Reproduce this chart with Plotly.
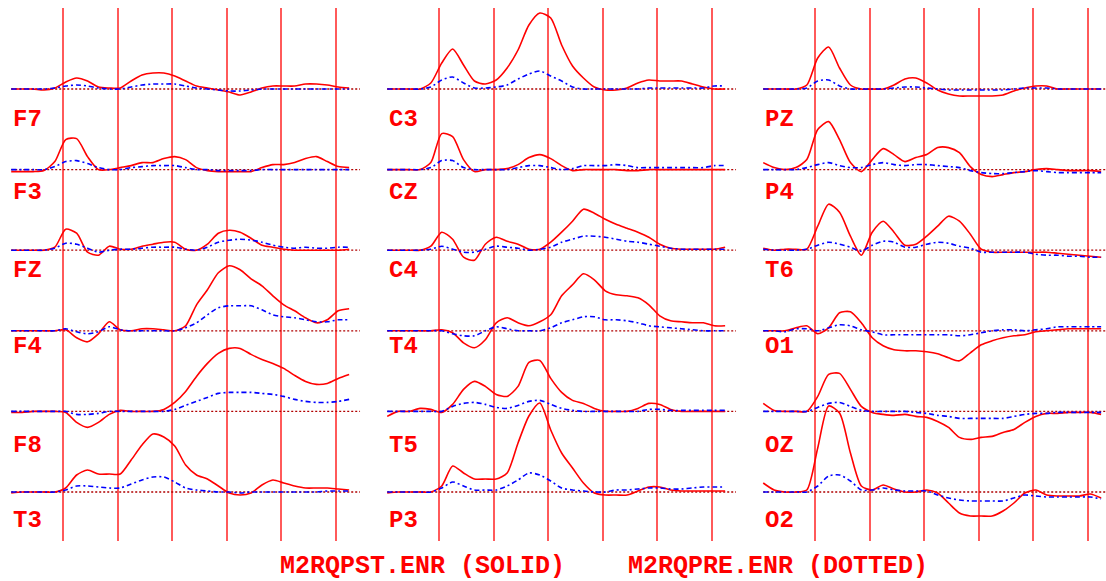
import plotly.graph_objects as go

# time axis (ms) of the sampled waveforms
times = [-95, -75, -55, -35, -15, 5, 25, 45, 65, 85, 105, 125, 145, 165, 185, 205,
         225, 245, 265, 285, 305, 325, 345, 365, 385, 405, 425, 445, 465, 485, 505, 525]
grid_ticks = [0, 100, 200, 300, 400, 500]
baseline_span = [-95, 545]

# column 1
col1_names = ["F7", "F3", "FZ", "F4", "F8", "T3"]
F7_post = [0,0,0,-1,1,7,11,8,2,1,1,8,14,16,16,13,8,3,1,-1,-3,-6,-3,1,3,3,3,5,5,4,2,1]
F7_pre = [0,0,0,0,1,3,4,3,1,0,0,2,4,5,5,5,3,1,0,-1,-2,-2,-1,0,0,0,0,0,0,0,0,0]
F3_post = [-2,-2,-2,-1,8,30,31,13,0,0,2,4,7,7,11,13,10,2,-1,-2,-2,-2,-2,2,5,5,7,11,13,8,3,2]
F3_pre = [0,0,0,0,3,8,9,6,2,0,0,2,3,4,4,4,2,0,0,-1,-1,-1,-1,0,0,0,0,0,0,0,0,0]
FZ_post = [0,0,0,0,3,21,17,-2,-5,4,1,1,4,6,8,8,1,0,6,17,20,18,12,5,3,1,0,0,0,0,0,1]
FZ_pre = [0,0,0,0,2,7,6,2,-2,0,1,1,2,3,3,3,1,0,3,8,10,11,10,8,5,3,2,3,2,2,3,3]
F4_post = [0,0,0,0,0,1,-7,-11,-3,9,1,0,2,2,1,0,5,26,41,58,65,61,52,45,35,26,20,13,8,11,20,22]
F4_pre = [0,0,0,0,0,2,-1,-3,-1,4,1,0,0,0,0,0,3,8,16,23,25,25,25,21,16,14,13,11,9,9,11,11]
F8_post = [-1,-1,0,0,0,-1,-11,-16,-11,-3,1,0,0,0,2,9,20,35,48,58,63,63,57,52,48,43,36,30,27,28,33,37]
F8_pre = [0,0,0,0,0,0,-3,-3,-2,0,0,0,0,0,0,2,6,10,14,18,19,19,19,18,17,15,12,10,9,9,10,12]
T3_post = [-1,0,0,0,0,4,17,22,18,18,18,32,47,58,55,46,27,17,13,6,-1,-3,-1,7,12,9,6,4,4,4,3,2]
T3_pre = [0,0,0,0,0,2,6,6,5,4,4,8,12,15,15,10,4,2,1,0,0,-1,0,0,0,0,0,0,0,1,1,1]

# column 2
col2_names = ["C3", "CZ", "C4", "T4", "T5", "P3"]
C3_post = [0,0,0,0,6,26,40,24,8,5,9,21,39,64,76,71,44,23,11,2,-1,-1,1,6,9,8,8,8,5,2,0,0]
C3_pre = [0,0,0,0,2,9,12,6,1,1,2,4,10,15,18,13,8,2,0,0,0,0,0,0,1,1,1,1,1,1,3,3]
CZ_post = [0,0,0,0,7,36,33,10,-2,0,0,1,5,12,15,11,4,-1,0,0,0,0,-1,-1,0,0,0,0,0,0,0,0]
CZ_pre = [0,0,0,0,2,9,9,2,0,0,0,0,2,4,4,2,0,1,4,4,4,5,4,2,2,2,2,2,2,2,4,4]
C4_post = [0,0,0,0,4,18,11,-7,-10,6,13,9,6,1,1,8,18,29,41,37,31,26,22,18,13,6,2,1,1,1,1,3]
C4_pre = [0,0,0,0,1,4,1,-2,-2,1,4,3,2,0,1,3,8,11,14,14,13,11,9,8,6,4,2,1,1,1,1,1]
T4_post = [0,0,0,0,0,1,-2,-12,-17,-9,8,13,8,5,9,16,35,46,57,51,40,36,35,33,26,15,10,9,8,8,5,5]
T4_pre = [0,0,0,0,0,0,-3,-5,-5,0,4,2,0,0,0,3,8,11,14,14,11,11,10,8,5,4,3,2,1,0,0,0]
T5_post = [-5,0,0,3,2,-1,7,22,30,25,17,15,25,49,51,33,19,11,8,3,0,0,0,3,8,7,2,0,0,0,0,0]
T5_pre = [0,0,0,0,0,0,5,8,9,7,4,3,6,10,11,7,3,1,0,0,0,0,0,0,2,2,1,1,1,1,1,1]
P3_post = [-1,0,0,0,0,6,26,19,13,13,13,19,49,76,89,62,39,24,9,-1,-3,-3,-3,1,5,5,2,1,1,1,1,1]
P3_pre = [0,0,0,0,0,4,10,6,2,2,2,6,12,19,17,11,4,2,1,0,0,2,2,3,4,4,3,3,4,5,5,5]

# column 3
col3_names = ["PZ", "P4", "T6", "O1", "OZ", "O2"]
PZ_post = [0,0,0,0,4,31,42,21,4,0,0,0,4,10,11,6,-1,-5,-7,-7,-7,-7,-6,-2,1,3,3,0,0,0,0,0]
PZ_pre = [0,0,0,0,1,8,9,3,0,0,0,0,1,2,2,1,0,-1,-1,-1,-1,-1,-1,0,1,1,1,0,0,0,0,0]
P4_post = [7,2,0,2,10,40,48,30,7,-2,10,21,15,8,12,15,22,22,17,3,-5,-7,-5,-3,-2,0,1,0,-1,-1,-1,-2]
P4_pre = [0,0,0,0,2,5,7,4,2,2,5,7,5,4,5,5,4,3,2,-1,-3,-4,-4,-3,-2,-1,-2,-3,-3,-3,-3,-3]
T6_post = [2,0,1,1,1,24,46,38,14,-5,18,29,18,5,6,14,24,34,29,16,1,-2,-2,-2,-2,-2,-2,-3,-4,-5,-6,-7]
T6_pre = [1,0,0,0,1,5,8,6,3,-1,5,9,8,3,3,6,8,7,4,2,-2,-2,-2,-2,-2,-4,-5,-5,-6,-6,-7,-7]
O1_post = [0,0,0,3,5,-3,3,18,19,8,-7,-15,-19,-20,-20,-21,-23,-27,-30,-22,-14,-10,-7,-5,-4,-1,0,1,2,2,2,2]
O1_pre = [0,0,-1,2,2,0,3,6,5,1,-1,-4,-4,-4,-4,-4,-4,-4,-5,-4,-2,0,1,1,0,1,2,4,4,4,4,4]
OZ_post = [8,1,0,0,0,15,37,38,22,5,-1,-3,-4,-3,-5,-6,-10,-16,-26,-28,-26,-25,-21,-18,-11,-5,-2,-2,-1,-1,-1,-3]
OZ_pre = [0,0,0,0,0,4,8,9,5,1,0,0,0,0,-1,-2,-4,-5,-7,-7,-7,-7,-7,-5,-3,-2,-2,-1,-1,-1,-1,-1]
O2_post = [9,2,0,0,2,44,86,79,39,6,2,7,3,0,0,2,-1,-11,-21,-24,-24,-24,-19,-11,-1,2,-3,-4,-4,-4,-2,-6]
O2_pre = [0,0,0,0,0,6,16,17,11,2,2,4,2,1,1,1,-3,-6,-8,-9,-9,-9,-9,-6,-3,-4,-5,-5,-5,-5,-5,-7]

caption_solid = "M2RQPST.ENR (SOLID)"
caption_dotted = "M2RQPRE.ENR (DOTTED)"

columns = [
    (col1_names, [(F7_post, F7_pre), (F3_post, F3_pre), (FZ_post, FZ_pre),
                  (F4_post, F4_pre), (F8_post, F8_pre), (T3_post, T3_pre)]),
    (col2_names, [(C3_post, C3_pre), (CZ_post, CZ_pre), (C4_post, C4_pre),
                  (T4_post, T4_pre), (T5_post, T5_pre), (P3_post, P3_pre)]),
    (col3_names, [(PZ_post, PZ_pre), (P4_post, P4_pre), (T6_post, T6_pre),
                  (O1_post, O1_pre), (OZ_post, OZ_pre), (O2_post, O2_pre)]),
]

# ---- layout geometry ----
W, H = 1106, 581
COL_W = 376          # px per column
ZERO_PX = 63         # px from column left edge to t = 0
PX_PER_MS = 0.545
ROW = 80.6           # vertical spacing between channels (amplitude units)
TOP_BASE_PX = 89     # pixel row of the first channel's baseline
Y_TOP, Y_BOT = 81, -452
DOM_Y = [(H - 541) / H, (H - 8) / H]
LABEL_ROWS_PX = [119.5, 192, 270, 346, 445, 520]   # label centre rows (layout)
CAPTION_ROW_PX = 566.5

RED = "#FF0000"
GRID_RED = "#FF5A5A"
BLUE = "#0000FF"
BASE_RED = "#B00000"
LABEL_FONT = dict(family="Liberation Mono, Courier New, monospace", size=24, color=RED)

fig = go.Figure()
annotations = []
layout_axes = {}

for c, (names, series) in enumerate(columns):
    sfx = "" if c == 0 else str(c + 1)
    xa, ya = "x" + sfx, "y" + sfx
    left_px = c * COL_W
    right_px = min((c + 1) * COL_W, W)
    x_range = [-ZERO_PX / PX_PER_MS, (right_px - left_px - ZERO_PX) / PX_PER_MS]
    layout_axes["xaxis" + sfx] = dict(
        domain=[left_px / W, right_px / W], range=x_range, anchor=ya,
        tickmode="array", tickvals=grid_ticks, showticklabels=False, ticks="",
        showgrid=True, gridcolor=GRID_RED, gridwidth=1.6, zeroline=False,
        showline=False, fixedrange=True)
    layout_axes["yaxis" + sfx] = dict(
        domain=DOM_Y, range=[Y_BOT, Y_TOP], anchor=xa, showgrid=False,
        showticklabels=False, ticks="", zeroline=False, showline=False, fixedrange=True)

    for k, (name, (post, pre)) in enumerate(zip(names, series)):
        off = -k * ROW
        fig.add_trace(go.Scatter(
            x=baseline_span, y=[off, off], xaxis=xa, yaxis=ya, mode="lines",
            line=dict(color=BASE_RED, width=1.3, dash="2px,2px"),
            hoverinfo="skip", showlegend=False))
        fig.add_trace(go.Scatter(
            x=times, y=[v + off for v in post], xaxis=xa, yaxis=ya, mode="lines",
            line=dict(color=RED, width=1.6, shape="spline", smoothing=0.7),
            name=name + " post", showlegend=False))
        fig.add_trace(go.Scatter(
            x=times, y=[v + off for v in pre], xaxis=xa, yaxis=ya, mode="lines",
            line=dict(color=BLUE, width=1.6, shape="spline", smoothing=0.7,
                      dash="5px,3px,2px,3px"),
            name=name + " pre", showlegend=False))
        annotations.append(dict(
            x=-(ZERO_PX - 11) / PX_PER_MS, y=TOP_BASE_PX - LABEL_ROWS_PX[k],
            xref=xa, yref=ya,
            text="<b>" + name + "</b>", showarrow=False, xanchor="left",
            yanchor="middle", font=LABEL_FONT))

CAP_FONT = dict(family="Liberation Mono, Courier New, monospace", size=25, color=RED)
for cap_text, cap_x in ((caption_solid, 280), (caption_dotted, 628)):
    annotations.append(dict(x=cap_x / W, y=(H - CAPTION_ROW_PX) / H,
                            xref="paper", yref="paper",
                            text="<b>" + cap_text + "</b>", showarrow=False,
                            xanchor="left", yanchor="middle", font=CAP_FONT,
                            borderpad=0, borderwidth=0))

fig.update_layout(
    width=W, height=H, margin=dict(l=0, r=0, t=0, b=0),
    paper_bgcolor="white", plot_bgcolor="white",
    showlegend=False, annotations=annotations, **layout_axes)

fig.write_html("out.html", config={"displayModeBar": False})
